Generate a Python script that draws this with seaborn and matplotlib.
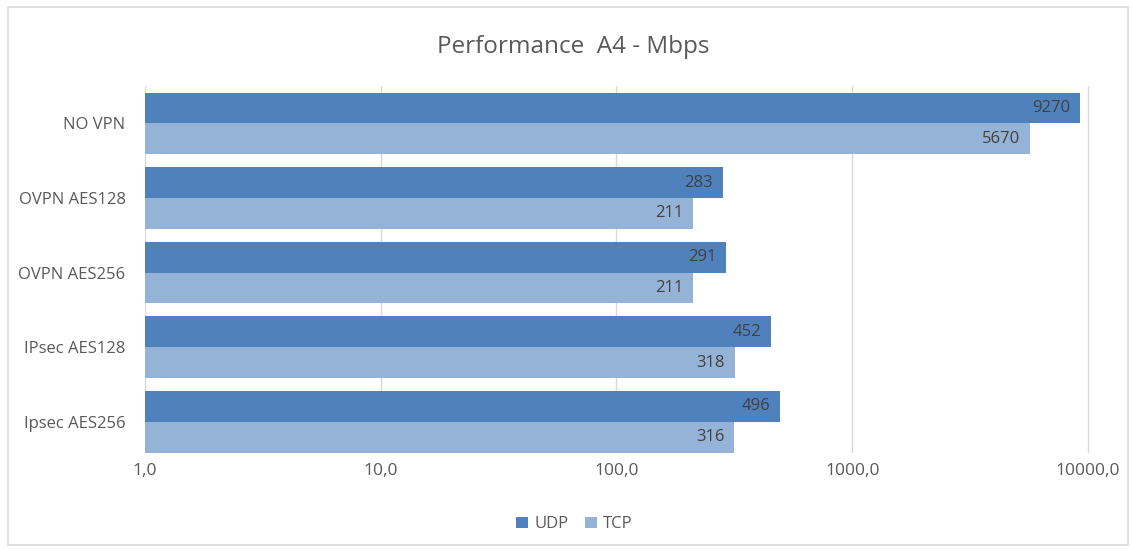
import pandas as pd
import matplotlib.pyplot as plt
import seaborn as sns
from matplotlib.patches import Rectangle
from matplotlib.ticker import FixedLocator, FuncFormatter

# ==========================================================
# DATA
# ==========================================================

categories = ["NO VPN", "OVPN AES128", "OVPN AES256", "IPsec AES128", "Ipsec AES256"]
udp_values = [9270, 283, 291, 452, 496]
tcp_values = [5670, 211, 211, 318, 316]
series_names = ["UDP", "TCP"]
x_ticks = [1, 10, 100, 1000, 10000]

UDP_COLOR = "#4F81BD"
TCP_COLOR = "#95B3D7"
TEXT_DARK = "#404040"
TEXT_GRAY = "#595959"
GRID_COLOR = "#D9D9D9"

sns.set_style("white")
plt.rcParams["font.family"] = ["Open Sans", "DejaVu Sans"]

df = pd.DataFrame({
    "category": categories * 2,
    "series": [series_names[0]] * len(categories) + [series_names[1]] * len(categories),
    "value": udp_values + tcp_values,
})

# ==========================================================
# PLOT
# ==========================================================

fig = plt.figure(figsize=(11.33, 5.49), dpi=100)
ax = fig.add_axes([0.128, 0.175, 0.840, 0.668])

sns.barplot(
    data=df, y="category", x="value", hue="series",
    order=categories, hue_order=series_names,
    palette=[UDP_COLOR, TCP_COLOR], orient="h",
    width=0.83, linewidth=0, saturation=1, ax=ax, legend=True,
)

ax.set_xscale("log")
ax.set_xlim(1, 10000 * 1.09)
ax.set_ylim(4.42, -0.5)

ax.xaxis.set_major_locator(FixedLocator(x_ticks))
ax.xaxis.set_major_formatter(FuncFormatter(lambda v, p: f"{v:.1f}".replace(".", ",")))
ax.xaxis.set_minor_locator(FixedLocator([]))
ax.grid(axis="x", color=GRID_COLOR, linewidth=1)
ax.set_axisbelow(True)
for s in ax.spines.values():
    s.set_visible(False)

ax.tick_params(axis="x", length=0, pad=7, labelsize=12.5, labelcolor=TEXT_GRAY)
ax.tick_params(axis="y", length=0, pad=14, labelsize=12, labelcolor=TEXT_GRAY)
ax.set_xlabel("")
ax.set_ylabel("")

# value labels inside bar ends
for container in ax.containers:
    for bar in container:
        w = bar.get_width()
        ax.annotate(
            f"{w:.0f}",
            xy=(w, bar.get_y() + bar.get_height() / 2),
            xytext=(-7, 0), textcoords="offset points",
            ha="right", va="center", fontsize=12, color=TEXT_DARK,
        )

fig.suptitle("Performance  A4 - Mbps", x=0.506, y=0.937, fontsize=17.5, color=TEXT_GRAY)

handles, labels = ax.get_legend_handles_labels()
ax.get_legend().remove()
leg = fig.legend(
    handles, labels, loc="center", bbox_to_anchor=(0.507, 0.045), ncol=2, frameon=False,
    fontsize=12, handlelength=0.7, handleheight=0.7, handletextpad=0.4,
    columnspacing=1.0,
)
for t in leg.get_texts():
    t.set_color(TEXT_GRAY)

fig.patches.append(Rectangle(
    (8 / 1133, 4 / 549), 1120 / 1133, 538 / 549, transform=fig.transFigure,
    fill=False, edgecolor="#D9D9D9", linewidth=1.2,
))

plt.savefig("out.png", dpi=100)
plt.close()
